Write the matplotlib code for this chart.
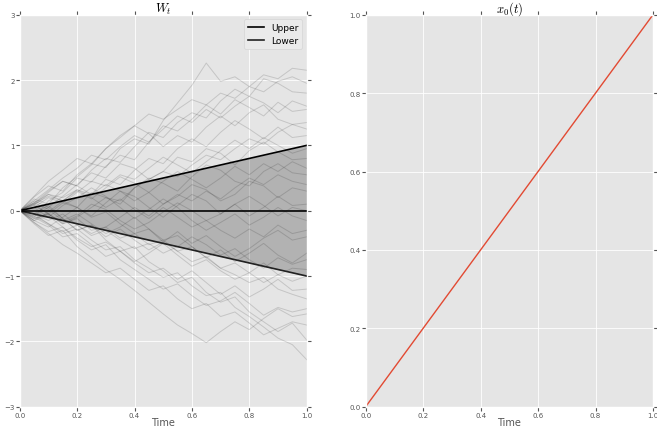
import numpy as np
import matplotlib
matplotlib.use("Agg")
import matplotlib.pyplot as plt

plt.style.use("ggplot")
plt.rcParams["mathtext.fontset"] = "cm"

# time grid of the sampled paths
TIME = [0.0, 0.05, 0.1, 0.15, 0.2, 0.25, 0.3, 0.35, 0.4, 0.45, 0.5,
        0.55, 0.6, 0.65, 0.7, 0.75, 0.8, 0.85, 0.9, 0.95, 1.0]

# sample paths of W_t
w01 = [0, 0.21, 0.38, 0.30, 0.55, 0.72, 0.66, 0.95, 1.10, 1.02, 1.38, 1.65, 1.92, 2.26, 1.98, 2.05, 1.90, 2.08, 2.02, 2.18, 2.15]
w02 = [0, 0.12, 0.30, 0.45, 0.38, 0.62, 0.80, 0.74, 0.98, 1.20, 1.12, 1.35, 1.50, 1.42, 1.68, 1.86, 1.75, 2.02, 1.95, 1.82, 1.80]
w03 = [0, -0.10, 0.15, 0.28, 0.50, 0.44, 0.68, 0.85, 0.78, 1.05, 1.30, 1.22, 1.40, 1.62, 1.48, 1.70, 1.58, 1.45, 1.66, 1.52, 1.55]
w04 = [0, 0.18, 0.10, 0.35, 0.52, 0.70, 0.95, 1.12, 1.30, 1.18, 0.98, 1.15, 1.05, 1.28, 1.45, 1.30, 1.50, 1.62, 1.40, 1.32, 1.35]
w05 = [0, 0.08, 0.25, 0.20, 0.32, 0.25, 0.48, 0.40, 0.62, 0.80, 0.72, 0.95, 1.10, 0.98, 1.20, 1.38, 1.25, 1.10, 1.28, 1.12, 1.15]
w06 = [0, 0.15, 0.05, 0.22, 0.40, 0.58, 0.50, 0.72, 0.65, 0.48, 0.60, 0.82, 0.75, 0.95, 0.88, 0.70, 0.92, 1.05, 0.90, 0.78, 0.80]
w07 = [0, -0.12, -0.05, 0.12, 0.05, 0.28, 0.20, 0.10, 0.35, 0.50, 0.42, 0.30, 0.52, 0.70, 0.62, 0.45, 0.38, 0.60, 0.72, 0.58, 0.55]
w08 = [0, 0.10, 0.28, 0.45, 0.38, 0.25, 0.40, 0.30, 0.15, 0.28, 0.10, 0.22, 0.40, 0.32, 0.15, 0.25, 0.45, 0.38, 0.20, 0.35, 0.30]
w09 = [0, -0.15, -0.25, -0.10, 0.05, -0.08, 0.12, 0.30, 0.22, 0.05, -0.10, 0.08, 0.25, 0.15, -0.05, 0.10, -0.08, 0.05, 0.22, 0.08, 0.10]
w10 = [0, 0.05, -0.10, 0.08, 0.20, 0.35, 0.22, 0.05, -0.12, 0.02, 0.18, 0.05, -0.15, -0.30, -0.18, -0.05, -0.22, -0.10, 0.05, -0.08, -0.15]
w11 = [0, -0.08, 0.05, -0.12, -0.30, -0.22, -0.40, -0.28, -0.45, -0.60, -0.48, -0.32, -0.50, -0.38, -0.55, -0.70, -0.58, -0.42, -0.30, -0.45, -0.40]
w12 = [0, 0.12, 0.02, -0.15, -0.05, -0.20, -0.35, -0.25, -0.10, -0.28, -0.45, -0.38, -0.55, -0.72, -0.60, -0.78, -0.65, -0.50, -0.68, -0.80, -0.65]
w13 = [0, -0.18, -0.32, -0.25, -0.42, -0.55, -0.48, -0.62, -0.78, -0.65, -0.50, -0.68, -0.85, -0.75, -0.92, -1.05, -0.95, -0.80, -0.98, -0.88, -0.90]
w14 = [0, -0.10, -0.22, -0.40, -0.35, -0.52, -0.70, -0.62, -0.80, -0.95, -0.88, -1.05, -0.92, -1.10, -1.28, -1.15, -1.32, -1.20, -1.05, -1.22, -1.20]
w15 = [0, -0.15, -0.08, -0.25, -0.45, -0.60, -0.52, -0.75, -0.90, -1.05, -1.20, -1.12, -1.30, -1.45, -1.38, -1.25, -1.42, -1.60, -1.48, -1.55, -1.50]
w16 = [0, -0.20, -0.38, -0.30, -0.55, -0.72, -0.90, -1.05, -1.22, -1.40, -1.58, -1.75, -1.88, -2.02, -1.85, -1.70, -1.82, -1.65, -1.50, -1.62, -1.58]
w17 = [0, -0.08, -0.20, -0.35, -0.28, -0.45, -0.60, -0.55, -0.75, -0.88, -1.02, -0.95, -1.15, -1.30, -1.25, -1.48, -1.62, -1.78, -1.95, -2.05, -2.28]
w18 = [0, -0.05, 0.08, -0.12, -0.30, -0.22, -0.45, -0.62, -0.55, -0.78, -0.92, -1.10, -1.02, -1.25, -1.40, -1.32, -1.55, -1.70, -1.85, -1.72, -1.98]
w19 = [0, 0.22, 0.45, 0.62, 0.80, 0.72, 0.95, 1.15, 1.30, 1.48, 1.40, 1.55, 1.70, 1.62, 1.80, 1.72, 1.90, 1.82, 1.98, 2.05, 1.95]
w20 = [0, 0.05, 0.20, 0.12, 0.28, 0.45, 0.38, 0.55, 0.48, 0.65, 0.82, 0.70, 0.58, 0.75, 0.92, 1.08, 0.95, 1.12, 1.00, 0.88, 0.95]
w21 = [0, -0.12, -0.05, -0.20, -0.12, -0.30, -0.25, -0.42, -0.35, -0.52, -0.45, -0.62, -0.78, -0.70, -0.88, -0.80, -0.95, -1.10, -0.98, -1.08, -1.00]
w22 = [0, 0.08, -0.05, -0.18, -0.08, 0.10, 0.02, -0.15, -0.28, -0.18, -0.02, 0.12, 0.00, -0.15, -0.05, 0.10, 0.22, 0.08, -0.08, 0.05, 0.00]
w23 = [0, 0.15, 0.32, 0.50, 0.65, 0.85, 0.78, 0.98, 1.15, 1.05, 1.25, 1.45, 1.35, 1.55, 1.42, 1.60, 1.75, 1.65, 1.50, 1.68, 1.60]
w24 = [0, -0.18, -0.35, -0.52, -0.65, -0.80, -0.95, -0.88, -1.05, -1.22, -1.15, -1.35, -1.50, -1.42, -1.62, -1.55, -1.72, -1.90, -1.80, -1.70, -1.75]
w25 = [0, -0.05, -0.15, -0.05, -0.22, -0.35, -0.25, -0.10, 0.05, -0.08, 0.10, 0.25, 0.15, 0.30, 0.18, 0.35, 0.50, 0.40, 0.55, 0.45, 0.40]
w26 = [0, 0.10, 0.22, 0.15, 0.32, 0.20, 0.05, 0.18, 0.02, -0.12, 0.05, -0.10, -0.25, -0.15, -0.30, -0.42, -0.28, -0.40, -0.22, -0.35, -0.30]
w27 = [0, 0.10, -0.05, -0.20, -0.10, 0.05, 0.20, 0.15, 0.35, 0.48, 0.60, 0.52, 0.70, 0.85, 0.78, 0.95, 1.10, 1.02, 1.20, 1.32, 1.25]
w28 = [0, 0.12, 0.25, 0.15, 0.05, -0.10, -0.02, -0.20, -0.35, -0.28, -0.48, -0.62, -0.55, -0.72, -0.88, -0.98, -1.10, -1.02, -1.20, -1.28, -1.35]
w29 = [0, -0.15, -0.02, 0.15, 0.30, 0.18, 0.35, 0.52, 0.42, 0.28, 0.45, 0.60, 0.48, 0.35, 0.50, 0.68, 0.55, 0.72, 0.60, 0.75, 0.65]
w30 = [0, -0.05, -0.20, -0.32, -0.22, -0.38, -0.30, -0.45, -0.58, -0.50, -0.65, -0.55, -0.40, -0.52, -0.68, -0.58, -0.75, -0.88, -0.72, -0.82, -0.75]

paths = [w01, w02, w03, w04, w05, w06, w07, w08, w09, w10,
         w11, w12, w13, w14, w15, w16, w17, w18, w19, w20,
         w21, w22, w23, w24, w25, w26, w27, w28, w29, w30]

# bounds and mean line
BOUND_T = [0.0, 1.0]
UPPER = [0.0, 1.0]
LOWER = [0.0, -1.0]
MEAN = [0.0, 0.0]

# initial condition x_0(t)
X0_T = [0.0, 1.0]
X0 = [0.0, 1.0]

fig = plt.figure(figsize=(6.57, 4.27), dpi=100)
ax1 = fig.add_axes([0.030, 0.0452, 0.4368, 0.918])
ax2 = fig.add_axes([0.5566, 0.0452, 0.4373, 0.918])

for p in paths:
    ax1.plot(TIME, p, color="black", alpha=0.14, lw=0.7)
ax1.fill_between(BOUND_T, LOWER, UPPER, color="black", alpha=0.22, lw=0)
ax1.plot(BOUND_T, UPPER, color="black", lw=1.2, label="Upper")
ax1.plot(BOUND_T, LOWER, color="#222222", lw=1.2, label="Lower")
ax1.plot(BOUND_T, MEAN, color="black", lw=1.2)
ax1.set_xlim(0, 1)
ax1.set_ylim(-3, 3)
ax1.set_title("$W_t$", fontsize=9, pad=2)
ax1.legend(loc="upper right", fontsize=6.5, facecolor="#EAEAEA",
           edgecolor="#D5D5D5", framealpha=1, handlelength=1.8)

ax2.plot(X0_T, X0, color="#E24A33", lw=1)
ax2.set_xlim(0, 1)
ax2.set_ylim(0, 1)
ax2.set_title("$x_0(t)$", fontsize=9, pad=2)

for ax in (ax1, ax2):
    ax.set_xticks([0.0, 0.2, 0.4, 0.6, 0.8, 1.0])
    ax.tick_params(labelsize=5, colors="#555555", direction="out",
                   length=3, top=True, right=True, pad=0.8)
    ax.grid(True, color="white", lw=0.6)
    ax.set_xlabel("Time", fontsize=7, color="#555555")
    ax.xaxis.label.set_va("baseline")
    ax.xaxis.set_label_coords(0.5, -0.0455)
ax2.set_yticks([0.0, 0.2, 0.4, 0.6, 0.8, 1.0])

fig.savefig("out.png", dpi=100)
